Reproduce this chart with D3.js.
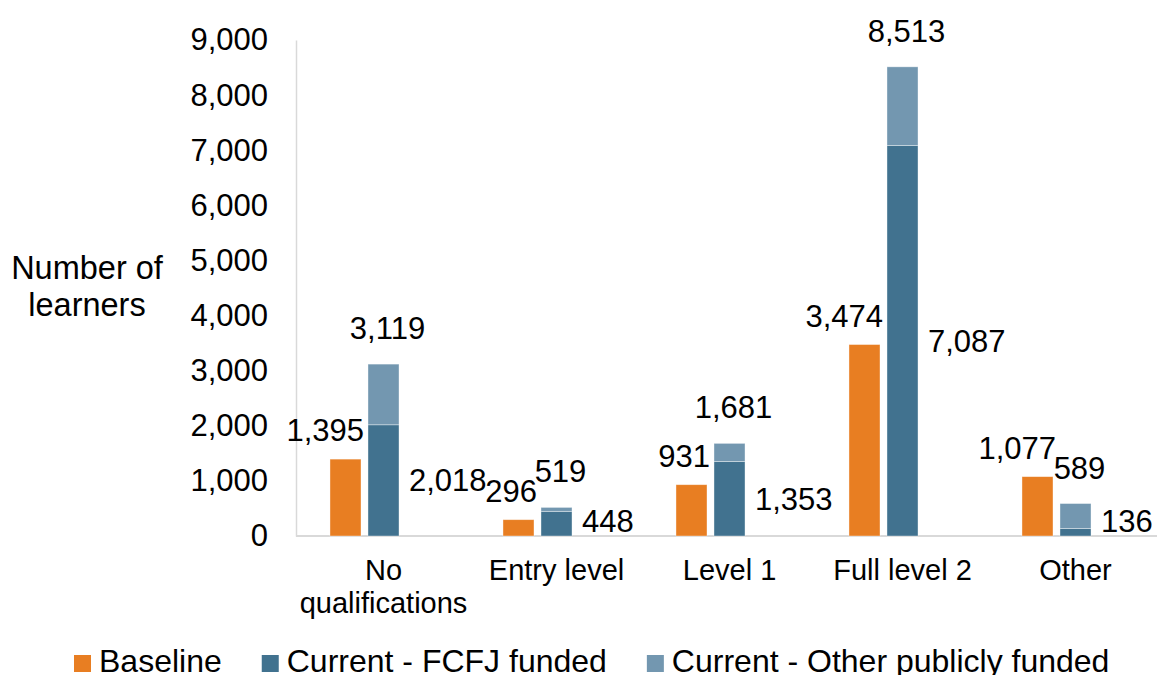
<!DOCTYPE html>
<html>
<head>
<meta charset="utf-8">
<script src="https://cdn.jsdelivr.net/npm/d3@7"></script>
<style>
  body { margin: 0; background: #fff; }
  svg { display: block; font-family: "Liberation Sans", Arial, sans-serif; }
</style>
</head>
<body>
<svg id="chart"></svg>
<script>
var categories = ["No qualifications", "Entry level", "Level 1", "Full level 2", "Other"];
var baseline = [1395, 296, 931, 3474, 1077];
var fcfjFunded = [2018, 448, 1353, 7087, 136];
var otherFunded = [1101, 71, 328, 1426, 453];
var yTicks = [0, 1000, 2000, 3000, 4000, 5000, 6000, 7000, 8000, 9000];
var seriesNames = ["Baseline", "Current - FCFJ funded", "Current - Other publicly funded"];
var colors = ["#E87E22", "#41728F", "#7397B0"];

var width = 1157, height = 675;
var fmt = d3.format(",");

var svg = d3.select("#chart").attr("width", width).attr("height", height);

var x0 = d3.scaleBand().domain(categories).range([297, 1162]);
// third slot is left empty, the FCFJ labels sit in it
var x1 = d3.scaleBand().domain(["baseline", "current", "spare"])
  .range([0, x0.bandwidth()]).paddingInner(0.184).paddingOuter(0.868);
var y = d3.scaleLinear().domain([0, 9000]).range([536, 40]);

// y axis
var yAxis = svg.append("g")
  .attr("transform", "translate(296,0)")
  .call(d3.axisLeft(y).tickValues(yTicks).tickFormat(fmt).tickSize(0).tickSizeOuter(0).tickPadding(28));
yAxis.select(".domain").attr("stroke", "#d9d9d9").attr("stroke-width", 1.5);
yAxis.selectAll("text").attr("font-size", 31).attr("fill", "#000").attr("font-family", null);

// x axis
var xAxis = svg.append("g")
  .attr("transform", "translate(0,536)")
  .call(d3.axisBottom(x0).tickSize(0).tickSizeOuter(0).tickPadding(23));
xAxis.select(".domain").attr("stroke", "#d9d9d9").attr("stroke-width", 2)
  .attr("d", "M296,0H1162");
xAxis.selectAll("text").attr("font-size", 29).attr("fill", "#000").attr("font-family", null)
  .each(function (d) { wrap(d3.select(this), x0.bandwidth()); });

function wrap(text, maxWidth) {
  var words = text.text().split(" ");
  var lines = [];
  var line = [];
  text.text(null);
  var probe = text.append("tspan");
  words.forEach(function (w) {
    var tryLine = line.concat([w]);
    probe.text(tryLine.join(" "));
    if (line.length && probe.node().getComputedTextLength() > maxWidth) {
      lines.push(line.join(" "));
      line = [w];
    } else {
      line = tryLine;
    }
  });
  lines.push(line.join(" "));
  probe.remove();
  lines.forEach(function (l, i) {
    text.append("tspan").attr("x", 0).attr("dy", i === 0 ? "0.71em" : "33px").text(l);
  });
}

// y title
var title = svg.append("text")
  .attr("font-size", 32.5).attr("text-anchor", "middle");
title.append("tspan").attr("x", 87).attr("y", 279).text("Number of");
title.append("tspan").attr("x", 87).attr("y", 316).text("learners");

var rows = categories.map(function (c, i) {
  return { cat: c, base: baseline[i], fcfj: fcfjFunded[i], other: otherFunded[i], total: fcfjFunded[i] + otherFunded[i] };
});

var groups = svg.append("g").selectAll("g").data(rows).enter().append("g")
  .attr("transform", function (d) { return "translate(" + x0(d.cat) + ",0)"; });

var bw = x1.bandwidth();

groups.append("rect")
  .attr("x", x1("baseline")).attr("width", bw)
  .attr("y", function (d) { return y(d.base); })
  .attr("height", function (d) { return y(0) - y(d.base); })
  .attr("fill", colors[0]);

groups.append("rect")
  .attr("x", x1("current")).attr("width", bw)
  .attr("y", function (d) { return y(d.fcfj); })
  .attr("height", function (d) { return y(0) - y(d.fcfj); })
  .attr("fill", colors[1]);

groups.append("rect")
  .attr("x", x1("current")).attr("width", bw)
  .attr("y", function (d) { return y(d.total); })
  .attr("height", function (d) { return y(d.fcfj) - y(d.total); })
  .attr("fill", colors[2]);

groups.selectAll("rect").attr("stroke", "#fff").attr("stroke-width", 0.75).attr("stroke-opacity", 0.5);

// data labels
groups.append("text")
  .attr("font-size", 31).attr("text-anchor", "end")
  .attr("x", x1("baseline") + bw + 3)
  .attr("y", function (d) { return y(d.base) - 18; })
  .text(function (d) { return fmt(d.base); });

groups.append("text")
  .attr("font-size", 31).attr("text-anchor", "middle")
  .attr("x", x1("current") + bw / 2 + 4)
  .attr("y", function (d) { return y(d.total) - 25; })
  .text(function (d) { return fmt(d.total); });

groups.append("text")
  .attr("font-size", 31).attr("text-anchor", "start")
  .attr("x", x1("current") + bw + 10)
  .attr("y", function (d) { return Math.min((y(0) + y(d.fcfj)) / 2, 521) + 11; })
  .text(function (d) { return fmt(d.fcfj); });

// legend
var legend = svg.append("g");
var lx = 74;
seriesNames.forEach(function (name, i) {
  legend.append("rect").attr("x", lx).attr("y", 655).attr("width", 17).attr("height", 17).attr("fill", colors[i]);
  var t = legend.append("text").attr("x", lx + 25).attr("y", 672).attr("font-size", 32).text(name);
  lx += 25 + t.node().getComputedTextLength() + 40;
});
</script>
</body>
</html>
